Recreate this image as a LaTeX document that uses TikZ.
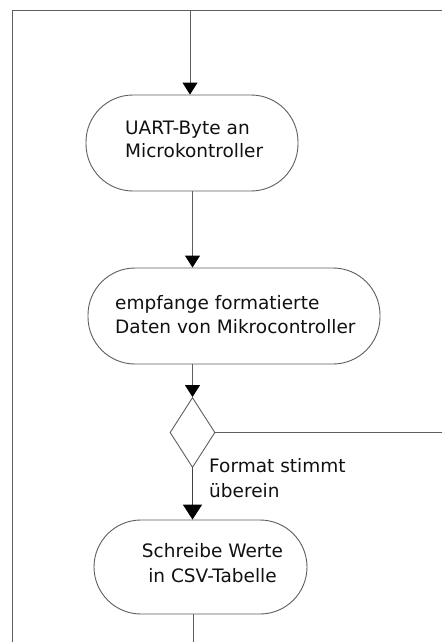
\documentclass[tikz,border=0pt]{standalone}
\usepackage{fontspec}
\setmainfont{DejaVu Sans}
\usetikzlibrary{arrows.meta,shapes.geometric}
\definecolor{linegray}{HTML}{5E5E5E}
\definecolor{txtcol}{HTML}{111111}
\begin{document}
\begin{tikzpicture}[x=1pt,y=-1pt,
  ln/.style={draw=linegray,line width=0.9pt},
  arr/.style={ln,-{Triangle[width=15pt,length=12pt,color=black]}},
  bigarr/.style={draw=black!75,line width=1.8pt,-{Triangle[width=19pt,length=15pt,color=black]}},
  term/.style={ln,rectangle,rounded corners=47pt,inner sep=0pt,fill=white},
  dec/.style={ln,diamond,inner sep=0pt,minimum width=45pt,minimum height=70pt},
  txt/.style={text=txtcol,inner sep=0pt,font=\fontsize{18.5}{23.5}\selectfont}
]
\useasboundingbox (0,0) rectangle (442,642);
% frame
\coordinate (fr) at (442,10);
\coordinate (fc) at (12.7,10);
\coordinate (fb) at (12.7,642);
\draw[ln] (fr) -- (fc) -- (fb);
% shapes
\node[term,minimum width=212pt,minimum height=96pt] (n1) at (192,143) {};
\node[term,minimum width=292pt,minimum height=96pt] (n2) at (234,316) {};
\node[dec] (d) at (192.5,432.5) {};
\node[term,minimum width=213pt,minimum height=94pt] (n3) at (200.5,567) {};
% texts
\node[txt,anchor=west,align=left] (t1) at (125,139.5) {UART-Byte an\\Microkontroller};
\node[txt,anchor=west,align=left,font=\fontsize{18.5}{24}\selectfont] (t2) at (115,315) {empfange formatierte\\Daten von Mikrocontroller};
\node[txt,align=center,font=\fontsize{18.5}{25}\selectfont] (t3) at (212.5,563.5) {Schreibe Werte\\in CSV-Tabelle};
\node[txt,anchor=west,align=left,font=\fontsize{18.5}{25}\selectfont] (lbl) at (209,478.5) {Format stimmt\\überein};
% connectors
\coordinate (top) at (190,10);
\coordinate (rt) at (442,432.5);
\coordinate (bot) at (193,642);
\draw[arr] (top) -- (top |- n1.north);
\draw[arr] (n1.south -| d.north) -- (n2.north -| d.north);
\draw[arr] (n2.south -| d.north) -- (d.north);
\draw[ln] (d.east) -- (rt);
\draw[bigarr] (d.south) -- (n3.north -| d.south);
\draw[ln] (n3.south -| bot) -- (bot);
\end{tikzpicture}
\end{document}
